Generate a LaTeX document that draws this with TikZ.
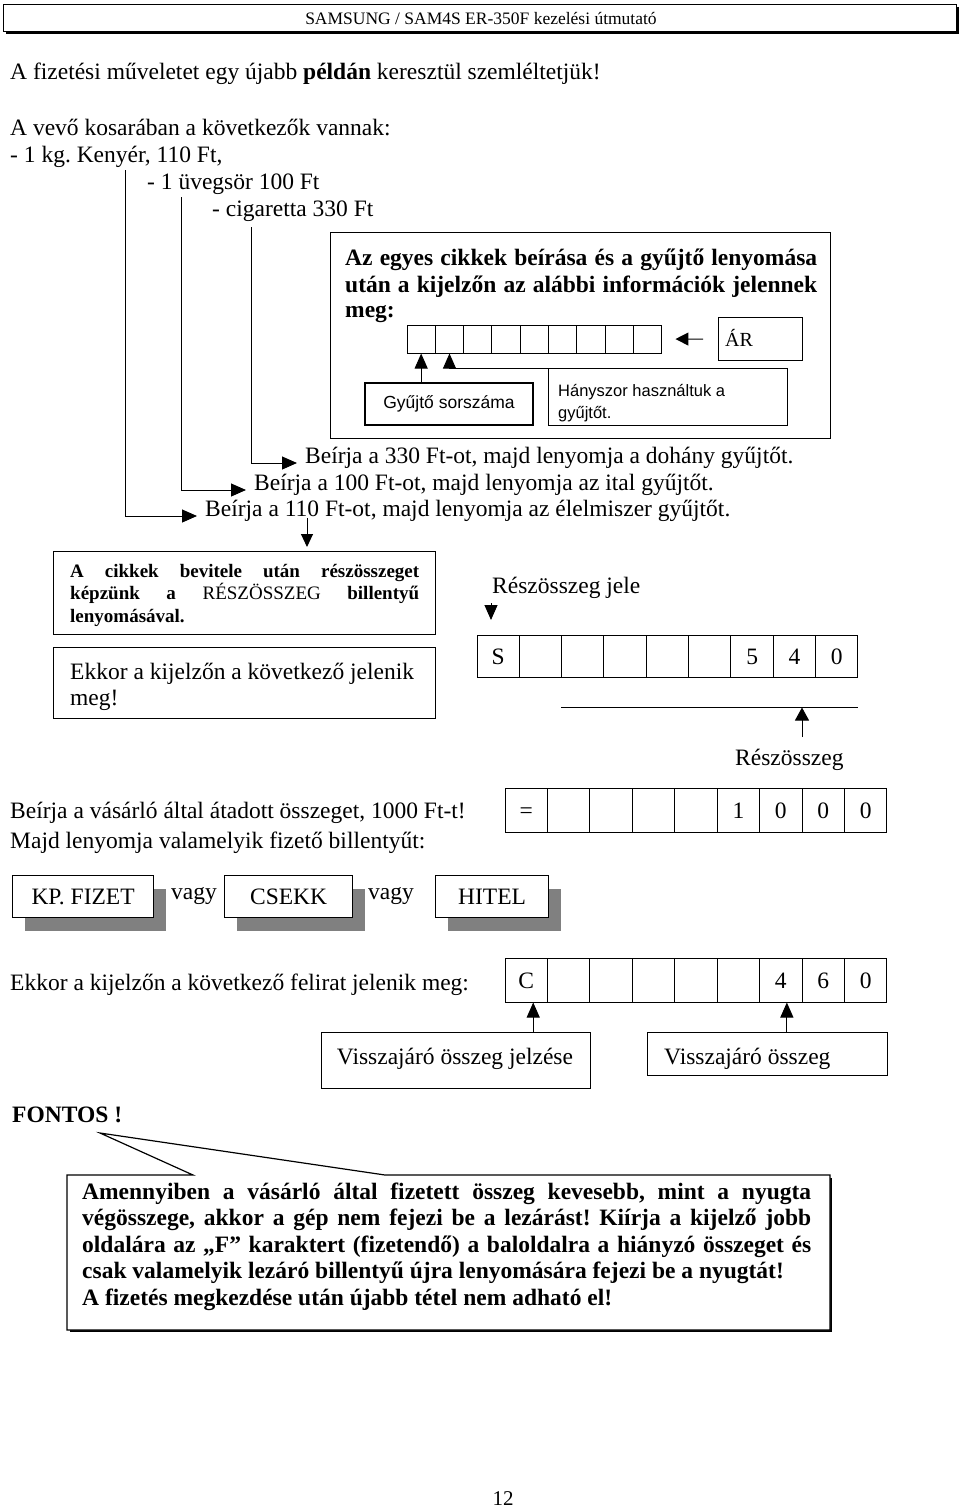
\documentclass[tikz,border=0pt]{standalone}
\usepackage{fontspec}
\setmainfont{Liberation Serif}
\newfontfamily\arialf{Liberation Sans}
\usetikzlibrary{arrows.meta,shadows}
\newcommand\fN{\fontsize{23.5}{27}\selectfont}
\newcommand\fS{\fontsize{19}{22.5}\selectfont}
\newcommand\fH{\fontsize{17.5}{20}\selectfont}
\frenchspacing
\begin{document}
\begin{tikzpicture}[x=1pt,y=-1pt,font=\fN,
 box/.style={draw,line width=1.2pt,inner sep=0pt},
 tx/.style={anchor=base west,inner sep=0pt},
 arr/.style={line width=1pt,-{Triangle[length=15pt,width=13pt]}},
 cellA/.style={draw,line width=1pt,inner sep=0pt,minimum width=28.33pt,minimum height=28pt},
 cellB/.style={draw,line width=1pt,inner sep=0pt,minimum width=42.33pt,minimum height=42pt,text height=16pt,text depth=0pt},
 cellC/.style={draw,line width=1pt,inner sep=0pt,minimum width=42.44pt,minimum height=44pt,text height=16pt,text depth=0pt},
 keybtn/.style={draw,line width=1.2pt,fill=white,inner sep=0pt,minimum height=42pt,anchor=north west,
   drop shadow={shadow xshift=12pt,shadow yshift=-13pt,fill=black!50,opacity=1}}]
\useasboundingbox (0,0) rectangle (960,1510);

% header
\node[draw,line width=1pt,fill=white,anchor=north west,minimum width=953pt,minimum height=27pt,inner sep=0pt,
  drop shadow={shadow xshift=2pt,shadow yshift=-2pt,fill=black,opacity=1}] (hdr) at (3,4) {};
\node[anchor=base,inner sep=0pt,font=\fH] (hdrt) at (481,24) {SAMSUNG / SAM4S ER-350F kezelési útmutató};

% intro text
\node[tx] (t1) at (10,79) {A fizetési műveletet egy újabb \textbf{példán} keresztül szemléltetjük!};
\node[tx] (t2) at (10,135) {A vevő kosarában a következők vannak:};
\node[tx] (i1) at (10,162) {- 1 kg. Kenyér, 110 Ft,};
\node[tx] (i2) at (147,189) {- 1 üvegsör 100 Ft};
\node[tx] (i3) at (212,216) {- cigaretta 330 Ft};

% big box
\node[box,anchor=north west,minimum width=500pt,minimum height=206pt] (big) at (330,232) {};
\node[tx,font=\fN\bfseries] (b1) at (345,265) {\makebox[472pt][s]{Az egyes cikkek beírása és a gyűjtő lenyomása}};
\node[tx,font=\fN\bfseries] (b2) at (345,292) {\makebox[472pt][s]{után a kijelzőn az alábbi információk jelennek}};
\node[tx,font=\fN\bfseries] (b3) at (345,317) {meg:};
\foreach \i in {1,...,9}{\node[cellA] (k\i) at ({407+28.33*(\i-0.5)},339) {};}
\node[box,anchor=north west,minimum width=84pt,minimum height=43pt] (ar) at (718,317) {};
\node[anchor=west,inner sep=0pt,font=\fontsize{20}{24}\selectfont] (art) at (725,338) {ÁR};
\draw[arr,shorten <=15pt,shorten >=13pt,-{Triangle[length=13pt,width=13pt]}] (ar.west) -- (k9.east);
\node[box,minimum width=168pt,minimum height=42pt,font=\arialf\fontsize{17.5}{20}\selectfont] (gy) at (449,404) {Gyűjtő sorszáma};
\node[box,anchor=north west,minimum width=239pt,minimum height=57pt] (hany) at (548,368) {};
\node[tx,font=\arialf\fontsize{16.5}{20}\selectfont] (h1) at (558,396) {Hányszor használtuk a};
\node[tx,font=\arialf\fontsize{16.5}{20}\selectfont] (h2) at (558,418) {gyűjtőt.};
\draw[arr] (gy.north -| k1.south) -- (k1.south);
\draw[arr] (hany.north west) -- (hany.north west -| k2.south) -- (k2.south);

% item arrows
\node[tx] (s330) at (305,463) {Beírja a 330 Ft-ot, majd lenyomja a dohány gyűjtőt.};
\node[tx] (s100) at (254,490) {Beírja a 100 Ft-ot, majd lenyomja az ital gyűjtőt.};
\node[tx] (s110) at (205,516) {Beírja a 110 Ft-ot, majd lenyomja az élelmiszer gyűjtőt.};
\coordinate (v1) at (125.5,170);
\coordinate (v2) at (181,197);
\coordinate (v3) at (251,227);
\draw[arr,shorten >=8pt] (v3) |- (s330.base west);
\draw[arr,shorten >=8pt] (v2) |- (s100.base west);
\draw[arr,shorten >=8pt] (v1) |- (s110.base west);

% subtotal
\node[box,anchor=north west,minimum width=382pt,minimum height=83pt] (box1) at (53,551) {};
\node[tx,font=\fS\bfseries] (c1) at (70,577) {\makebox[349pt][s]{A cikkek bevitele után részösszeget}};
\node[tx,font=\fS\bfseries] (c2) at (70,599.5) {\makebox[349pt][s]{képzünk a \mdseries RÉSZÖSSZEG \bfseries billentyű}};
\node[tx,font=\fS\bfseries] (c3) at (70,622) {lenyomásával.};
\coordinate (d110) at (307,518);
\draw[arr,shorten >=4pt,-{Triangle[length=13pt,width=12pt]}] (d110) -- (d110 |- box1.north);
\node[box,anchor=north west,minimum width=382pt,minimum height=71pt] (box2) at (53,647) {};
\node[tx] (e1) at (70,679) {Ekkor a kijelzőn a következő jelenik};
\node[tx] (e2) at (70,705) {meg!};

\node[tx] (jele) at (492,593) {Részösszeg jele};
\foreach \i/\t in {1/S,2/{},3/{},4/{},5/{},6/{},7/5,8/4,9/0}{\node[cellB] (s\i) at ({477+42.33*(\i-0.5)},656) {\t};}
\coordinate (jt) at (491,603);
\draw[arr] (jt) -- ++(0,17);
\draw[line width=1pt] ([yshift=-30pt]s3.south west) coordinate (hl1) -- ([yshift=-30pt]s9.south east);
\node[tx] (rsz) at (735,765) {Részösszeg};
\coordinate (ru) at (802,737);
\draw[arr,-{Triangle[length=13pt,width=14pt]}] (ru) -- (ru |- hl1);

% payment
\node[tx] (p1) at (10,818) {Beírja a vásárló által átadott összeget, 1000 Ft-t!};
\node[tx] (p2) at (10,848) {Majd lenyomja valamelyik fizető billentyűt:};
\foreach \i/\t in {1/=,2/{},3/{},4/{},5/{},6/1,7/0,8/0,9/0}{\node[cellC] (q\i) at ({505+42.44*(\i-0.5)},810) {\t};}
\node[keybtn,minimum width=141pt] (kp) at (12,875) {KP. FIZET};
\node[tx] (vg1) at (171,899) {vagy};
\node[keybtn,minimum width=128pt] (cs) at (224,875) {CSEKK};
\node[tx] (vg2) at (368,899) {vagy};
\node[keybtn,minimum width=113pt] (hi) at (435,875) {HITEL};

% change
\node[tx] (k1t) at (10,990) {Ekkor a kijelzőn a következő felirat jelenik meg:};
\foreach \i/\t in {1/C,2/{},3/{},4/{},5/{},6/{},7/4,8/6,9/0}{\node[cellC] (c\i) at ({505+42.44*(\i-0.5)},980) {\t};}
\node[box,anchor=north west,minimum width=269pt,minimum height=56pt] (vj) at (321,1032) {};
\node[anchor=base,inner sep=0pt] (vjt) at (455,1064) {Visszajáró összeg jelzése};
\node[box,anchor=north west,minimum width=240pt,minimum height=43pt] (vo) at (647,1032) {};
\node[tx] (vot) at (664,1064) {Visszajáró összeg};
\draw[arr] ([xshift=7pt]c1.south |- vj.north) -- ([xshift=7pt]c1.south);
\draw[arr] ([xshift=6pt]c7.south |- vo.north) -- ([xshift=6pt]c7.south);

% important
\node[tx,font=\fN\bfseries] (ft) at (12,1122) {FONTOS !};
\coordinate (ctip) at (100,1133);
\fill[black] (69.5,1177.5) rectangle (832,1332);
\draw[line width=1.2pt,fill=white] (67,1175) -- (193,1175) -- (ctip) -- (385,1175) -- (830,1175) -- (830,1330) -- (67,1330) -- cycle;
\node[tx,font=\fN\bfseries] (f1) at (82,1199) {\makebox[729pt][s]{Amennyiben a vásárló által fizetett összeg kevesebb, mint a nyugta}};
\node[tx,font=\fN\bfseries] (f2) at (82,1225.5) {\makebox[729pt][s]{végösszege, akkor a gép nem fejezi be a lezárást! Kiírja a kijelző jobb}};
\node[tx,font=\fN\bfseries] (f3) at (82,1252) {\makebox[729pt][s]{oldalára az „F” karaktert (fizetendő) a baloldalra a hiányzó összeget és}};
\node[tx,font=\fN\bfseries] (f4) at (82,1278.5) {csak valamelyik lezáró billentyű újra lenyomására fejezi be a nyugtát!};
\node[tx,font=\fN\bfseries] (f5) at (82,1305) {A fizetés megkezdése után újabb tétel nem adható el!};

\node[anchor=base,inner sep=0pt,font=\fontsize{21}{24}\selectfont] (pg) at (503,1505) {12};
\end{tikzpicture}
\end{document}
